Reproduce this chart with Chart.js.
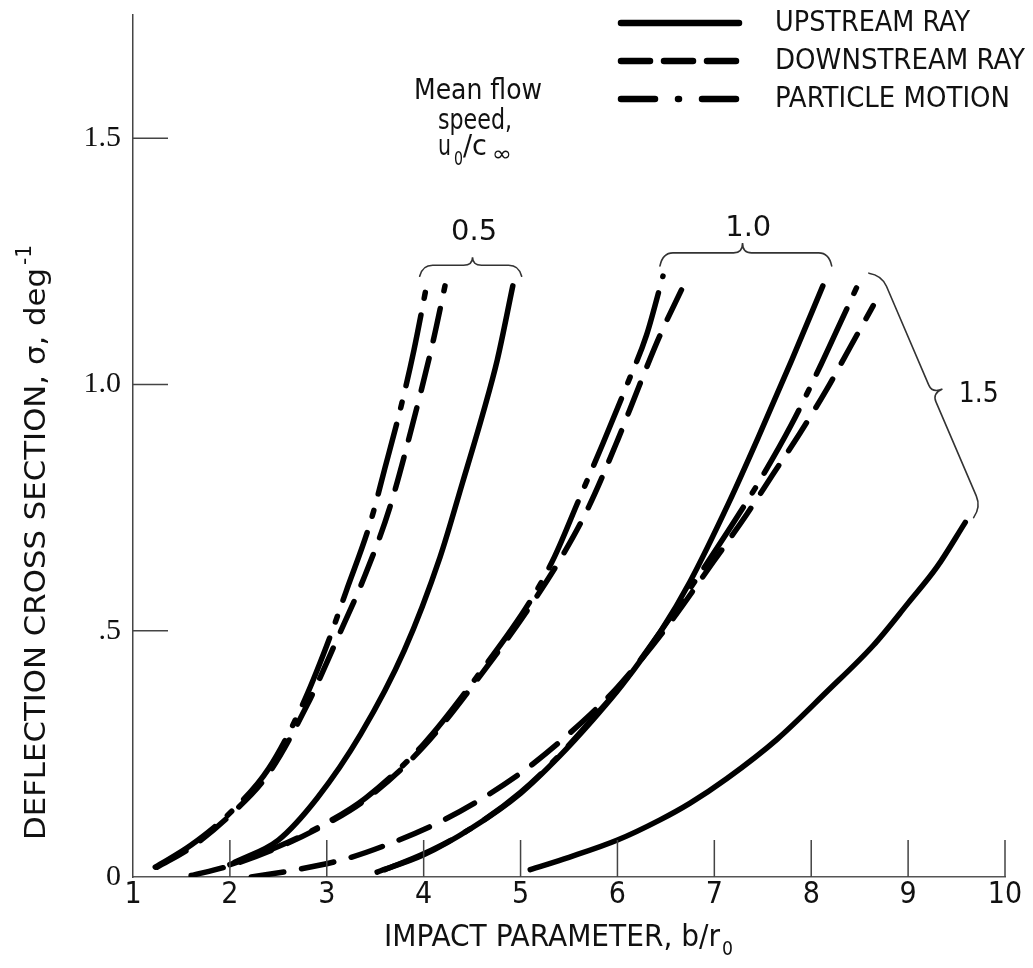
<!DOCTYPE html>
<html>
<head>
<meta charset="utf-8">
<title>Deflection cross section vs impact parameter</title>
<script src="https://cdn.jsdelivr.net/npm/chart.js@4.4.1/dist/chart.umd.min.js"></script>
<style>
  html, body { margin: 0; padding: 0; background: #fff; }
  #chart { display: block; }
</style>
</head>
<body>
<canvas id="chart" width="1033" height="968"></canvas>
<script>
// values: impact parameter b/r0 (x), deflection cross section (y)

// mean flow speed u0/c = 0.5
var upRay05X = [2.05, 2.5, 2.9, 3.35, 3.8, 4.17, 4.4, 4.61, 4.76, 4.92];
var upRay05Y = [0.03, 0.075, 0.16, 0.29, 0.46, 0.65, 0.8, 0.94, 1.05, 1.2];
var downRay05X = [1.25, 1.6, 2.0, 2.4, 2.8, 3.1, 3.4, 3.65, 3.9, 4.1, 4.22];
var downRay05Y = [0.02, 0.06, 0.125, 0.21, 0.35, 0.48, 0.615, 0.75, 0.93, 1.09, 1.2];
var particle05X = [1.23, 1.6, 2.0, 2.4, 2.75, 3.0, 3.2, 3.45, 3.6, 3.76, 3.9, 4.03];
var particle05Y = [0.02, 0.065, 0.13, 0.22, 0.35, 0.47, 0.58, 0.72, 0.83, 0.95, 1.07, 1.2];

// u0/c = 1.0
var upRay10X = [3.52, 4.0, 4.5, 5.0, 5.4, 5.75, 6.05, 6.45, 6.75, 7.15, 7.47, 7.8, 8.12];
var upRay10Y = [0.01, 0.045, 0.1, 0.17, 0.245, 0.32, 0.39, 0.5, 0.6, 0.76, 0.9, 1.05, 1.2];
var downRay10X = [1.6, 1.95, 2.5, 3.0, 3.4, 4.0, 4.6, 5.1, 5.44, 5.7, 6.0, 6.23, 6.44, 6.68];
var downRay10Y = [0.003, 0.02, 0.06, 0.108, 0.157, 0.265, 0.413, 0.55, 0.655, 0.75, 0.886, 1.0, 1.1, 1.2];
var particle10X = [2.0, 2.5, 3.0, 3.4, 4.0, 4.6, 5.1, 5.35, 5.6, 5.85, 6.1, 6.3, 6.47];
var particle10Y = [0.025, 0.062, 0.11, 0.16, 0.27, 0.42, 0.56, 0.65, 0.765, 0.88, 1.0, 1.1, 1.22];

// u0/c = 1.5
var upRay15X = [5.1, 5.5, 6.0, 6.44, 6.75, 7.13, 7.65, 8.16, 8.64, 9.0, 9.3, 9.59];
var upRay15Y = [0.015, 0.04, 0.075, 0.116, 0.15, 0.2, 0.28, 0.376, 0.47, 0.556, 0.63, 0.72];
var downRay15X = [2.22, 2.72, 3.2, 3.68, 4.2, 4.65, 5.13, 5.72, 6.0, 6.5, 6.99, 7.33, 7.6, 7.88, 8.16, 8.4, 8.64];
var downRay15Y = [0.0, 0.016, 0.037, 0.07, 0.115, 0.165, 0.23, 0.33, 0.385, 0.505, 0.64, 0.735, 0.816, 0.9, 0.99, 1.075, 1.16];
var particle15X = [3.6, 4.0, 4.5, 5.0, 5.4, 5.75, 6.05, 6.45, 6.85, 7.2, 7.5, 7.8, 8.1, 8.3, 8.5];
var particle15Y = [0.015, 0.047, 0.1, 0.172, 0.247, 0.323, 0.392, 0.5, 0.615, 0.72, 0.815, 0.92, 1.04, 1.125, 1.21];

// axes
var xTickValues = [1, 2, 3, 4, 5, 6, 7, 8, 9, 10];
var yTickValues = [0, 0.5, 1.0, 1.5];
var yTickLabels = ['0', '.5', '1.0', '1.5'];
var legendLabels = ['UPSTREAM RAY', 'DOWNSTREAM RAY', 'PARTICLE MOTION'];
var speedLabels = ['0.5', '1.0', '1.5'];

var NARROW = '"Liberation Sans Narrow", "DejaVu Sans Condensed", sans-serif';
var SERIF = '"Liberation Serif", "DejaVu Serif", serif';

var SOLID = [];
var DASHED = [33, 18];
var DASH_DOT = [72, 17, 6, 17];

function points(xs, ys) {
    return xs.map(function (x, i) { return { x: x, y: ys[i] }; });
}

function curve(label, xs, ys, dash) {
    return {
        label: label,
        data: points(xs, ys),
        showLine: true,
        borderColor: '#000',
        borderWidth: 5.5,
        borderDash: dash,
        borderCapStyle: 'round',
        borderJoinStyle: 'round',
        cubicInterpolationMode: 'monotone',
        pointRadius: 0,
        fill: false
    };
}

// draws text stretched/squeezed horizontally to a given width
function fitText(ctx, text, x, y, font, width, align) {
    ctx.save();
    ctx.font = font;
    ctx.textAlign = 'left';
    var w = ctx.measureText(text).width;
    var sx = width / w;
    var left = align === 'center' ? x - width / 2 : x;
    ctx.translate(left, y);
    ctx.scale(sx, 1);
    ctx.fillText(text, 0, 0);
    ctx.restore();
}

// curly brace between two body points, hooks curl to the +y side, tip to the -y side
function brace(ctx, x1, y1, x2, y2, hook, ext, tip, at) {
    var dx = x2 - x1, dy = y2 - y1;
    var L = Math.sqrt(dx * dx + dy * dy);
    var m = L * at, r = 9;
    ctx.save();
    ctx.translate(x1, y1);
    ctx.rotate(Math.atan2(dy, dx));
    ctx.beginPath();
    ctx.moveTo(-ext, hook);
    ctx.quadraticCurveTo(-ext * 0.3, 0, r, 0);
    ctx.lineTo(m - r, 0);
    ctx.quadraticCurveTo(m, 0, m, -tip);
    ctx.quadraticCurveTo(m, 0, m + r, 0);
    ctx.lineTo(L - r, 0);
    ctx.quadraticCurveTo(L + ext * 0.3, 0, L + ext, hook);
    ctx.stroke();
    ctx.restore();
}

var extras = {
    id: 'extras',
    afterDraw: function (chart) {
        var ctx = chart.ctx;
        var xs = chart.scales.x, ys = chart.scales.y;
        var X = function (v) { return xs.getPixelForValue(v); };
        var Y = function (v) { return ys.getPixelForValue(v); };
        ctx.save();

        // inward tick marks
        ctx.strokeStyle = '#444';
        ctx.lineWidth = 1.5;
        ctx.beginPath();
        xTickValues.forEach(function (v) {
            if (v === xs.min) return;
            ctx.moveTo(X(v), Y(0));
            ctx.lineTo(X(v), Y(0) - 37);
        });
        yTickValues.forEach(function (v) {
            if (v === 0) return;
            ctx.moveTo(X(1), Y(v));
            ctx.lineTo(X(1) + 35, Y(v));
        });
        ctx.stroke();

        ctx.fillStyle = '#111';
        ctx.textBaseline = 'middle';

        // axis titles
        ctx.save();
        ctx.translate(45, 840);
        ctx.rotate(-Math.PI / 2);
        ctx.textBaseline = 'alphabetic';
        fitText(ctx, 'DEFLECTION CROSS SECTION, \u03c3, deg', 0, 0, '28px ' + NARROW, 572, 'left');
        fitText(ctx, '-1', 575, -14, '22px ' + NARROW, 20, 'left');
        ctx.restore();

        fitText(ctx, 'IMPACT PARAMETER, b/r', 384, 938, '30px ' + NARROW, 336, 'left');
        fitText(ctx, '0', 722, 950, '20px ' + NARROW, 11, 'left');

        // legend
        var dashes = [SOLID, [29, 14], [34, 23, 1, 23]];
        var widths = [195, 250, 235];
        ctx.strokeStyle = '#000';
        ctx.lineWidth = 6.5;
        ctx.lineCap = 'round';
        legendLabels.forEach(function (lab, i) {
            var y = 23 + i * 38;
            ctx.setLineDash(dashes[i]);
            ctx.beginPath();
            ctx.moveTo(621, y);
            ctx.lineTo(739, y);
            ctx.stroke();
            ctx.setLineDash([]);
            fitText(ctx, lab, 775, y + 1, '28px ' + NARROW, widths[i], 'left');
        });

        // mean flow speed note
        fitText(ctx, 'Mean flow', 478, 92, '28px ' + NARROW, 128, 'center');
        fitText(ctx, 'speed,', 475, 122, '28px ' + NARROW, 74, 'center');
        fitText(ctx, 'u', 438, 148, '28px ' + NARROW, 13, 'left');
        fitText(ctx, '0', 454, 160, '20px ' + NARROW, 9, 'left');
        fitText(ctx, '/c', 463, 148, '28px ' + NARROW, 24, 'left');
        fitText(ctx, '\u221e', 492, 155, '22px "DejaVu Sans", sans-serif', 20, 'left');

        // group labels and braces
        fitText(ctx, speedLabels[0], X(4.52), 232, '29px ' + NARROW, 46, 'center');
        fitText(ctx, speedLabels[1], X(7.35), 228, '29px ' + NARROW, 46, 'center');
        fitText(ctx, speedLabels[2], X(9.73), 394, '29px ' + NARROW, 40, 'center');

        ctx.strokeStyle = '#333';
        ctx.lineWidth = 1.6;
        ctx.lineCap = 'round';
        brace(ctx, X(4.0), Y(1.242), X(4.97), Y(1.242), 11, 4, 8, 0.52);
        brace(ctx, X(6.48), Y(1.267), X(8.17), Y(1.267), 13, 4, 10, 0.48);
        brace(ctx, X(8.74), Y(1.216), X(9.74), Y(0.757), 11, 10, 11, 0.51);

        ctx.restore();
    }
};

new Chart(document.getElementById('chart'), {
    type: 'scatter',
    data: {
        datasets: [
            curve('Upstream ray, 0.5', upRay05X, upRay05Y, SOLID),
            curve('Downstream ray, 0.5', downRay05X, downRay05Y, DASHED),
            curve('Particle motion, 0.5', particle05X, particle05Y, DASH_DOT),
            curve('Upstream ray, 1.0', upRay10X, upRay10Y, SOLID),
            curve('Downstream ray, 1.0', downRay10X, downRay10Y, DASHED),
            curve('Particle motion, 1.0', particle10X, particle10Y, DASH_DOT),
            curve('Upstream ray, 1.5', upRay15X, upRay15Y, SOLID),
            curve('Downstream ray, 1.5', downRay15X, downRay15Y, DASHED),
            curve('Particle motion, 1.5', particle15X, particle15Y, DASH_DOT)
        ]
    },
    options: {
        responsive: false,
        animation: false,
        events: [],
        layout: { padding: { top: 15, right: 28, left: 0, bottom: 0 } },
        plugins: {
            legend: { display: false },
            tooltip: { enabled: false }
        },
        scales: {
            x: {
                type: 'linear',
                min: 1,
                max: 10,
                grid: { display: false, drawTicks: false },
                border: { display: true, color: '#555', width: 1.5 },
                afterBuildTicks: function (scale) {
                    scale.ticks = xTickValues.map(function (v) { return { value: v }; });
                },
                ticks: {
                    autoSkip: false,
                    maxRotation: 0,
                    padding: 0,
                    color: '#111',
                    font: { family: NARROW, size: 30 },
                    callback: function (v) { return String(v); }
                },
                afterFit: function (scale) {
                    scale.height = 91;
                    scale.paddingLeft = 0;
                    scale.paddingRight = 0;
                }
            },
            y: {
                type: 'linear',
                min: 0,
                max: 1.75,
                grid: { display: false, drawTicks: false },
                border: { display: true, color: '#444', width: 1.5 },
                afterBuildTicks: function (scale) {
                    scale.ticks = yTickValues.map(function (v) { return { value: v }; });
                },
                ticks: {
                    padding: 12,
                    color: '#111',
                    font: { family: SERIF, size: 30 },
                    callback: function (v) { return yTickLabels[yTickValues.indexOf(v)]; }
                },
                afterFit: function (scale) {
                    scale.width = 133;
                    scale.paddingTop = 0;
                    scale.paddingBottom = 0;
                }
            }
        }
    },
    plugins: [extras]
});
</script>
</body>
</html>
